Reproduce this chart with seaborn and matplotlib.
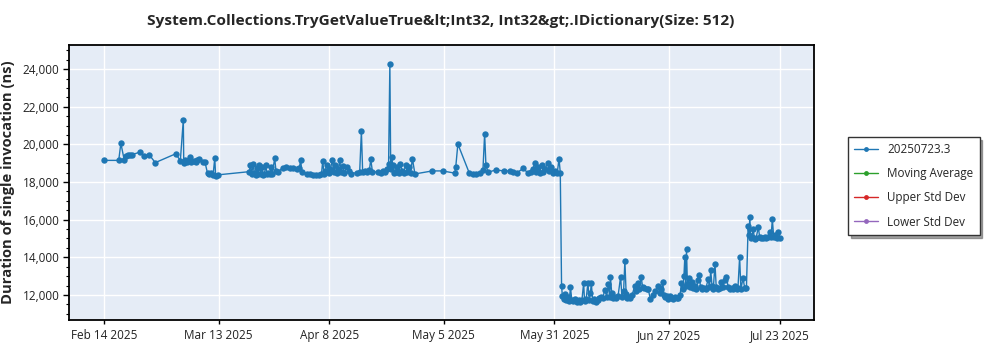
import matplotlib
matplotlib.use("Agg")
import matplotlib.pyplot as plt
from matplotlib.lines import Line2D
from matplotlib.ticker import FuncFormatter, MultipleLocator
import pandas as pd
import seaborn as sns

# ---------------- data ----------------
start_date = "2025-02-14"
day_offsets = [
    0.0, 3.5, 4.0, 4.8, 5.3, 5.6, 6.1, 6.6, 8.6, 9.4, 10.7, 12.1, 16.9, 18.0, 18.7, 18.8,
    19.1, 19.5, 20.0, 20.3, 20.6, 21.1, 21.6, 22.0, 22.5, 23.3, 23.8, 24.4, 24.8, 25.3,
    25.7, 26.1, 26.3, 26.8,
    34.2, 34.5, 34.8, 35.1, 35.4, 35.7, 36.0, 36.3, 36.6, 36.9, 37.2, 37.5, 37.8, 38.1,
    38.4, 38.7, 39.0, 39.3, 39.6, 40.2, 40.5, 40.9, 42.1, 42.9, 43.7, 44.5, 45.5, 46.0,
    46.3, 46.6, 47.8, 48.5, 49.2, 49.9, 50.6, 51.2, 51.5, 51.8,
    52.1, 52.5, 52.9, 53.3, 53.8, 54.1, 54.5, 54.9, 55.2, 55.5, 55.8, 56.2, 56.6, 57.2,
    57.6, 58.2, 59.5, 60.2, 60.6, 60.9, 61.5, 62.0, 62.5, 62.8, 63.2, 64.5, 65.2, 65.6,
    66.2, 66.6, 67.0, 67.3, 67.5, 67.7, 68.0, 68.3, 68.7, 69.0, 69.4, 69.8, 70.2, 70.6,
    71.0, 71.4, 71.8, 72.2, 72.6, 73.2, 77.3, 79.7, 82.6, 82.8, 83.3, 86.0, 86.8, 87.5,
    88.5, 89.2, 89.6, 89.9, 90.4, 92.2, 94.2, 95.5, 96.2, 97.1, 98.7, 99.8,
    100.5, 101.0, 101.4, 101.8, 102.2, 102.6, 103.0, 103.4, 103.8, 104.4, 104.8, 105.3,
    105.8, 106.2, 106.7, 107.1, 107.4,
    107.7, 107.9, 108.2, 108.5, 108.8, 109.2, 109.5, 109.8, 110.1, 110.5, 110.9, 111.3,
    111.7, 112.1, 112.5, 112.9, 113.1, 113.5, 113.9, 114.2, 114.5, 114.7, 115.0, 115.4,
    115.8, 116.2, 116.6, 117.0, 117.4, 117.9, 118.3, 118.7, 119.0, 119.2, 119.5, 119.8,
    120.2, 120.6, 121.0, 121.6, 121.9, 122.3, 122.6, 122.9, 123.1, 123.5, 123.9, 124.3,
    124.9, 125.3, 125.7, 126.0, 126.4, 126.8, 127.2, 127.7, 128.1, 128.6, 129.2, 129.8,
    130.4, 130.8, 131.2, 131.5, 131.8, 132.1, 132.4, 132.8, 133.2, 133.6, 134.0, 134.4,
    134.8, 135.2, 135.6, 135.9, 136.2, 136.5, 136.7, 136.9, 137.1, 137.3, 137.6, 137.9,
    138.3, 138.6, 139.0, 139.4, 139.8, 140.1, 140.4, 140.8, 141.2, 141.6, 142.2, 142.5,
    142.8, 143.1, 143.4, 143.8, 144.1, 144.5, 144.9, 145.3, 145.7, 146.1, 146.5, 146.9,
    147.3, 147.7, 148.1, 148.5, 148.9, 149.2, 149.6, 149.9, 150.4, 150.8, 151.2,
    151.6, 151.8, 152.0, 152.2, 152.5, 152.8, 153.1, 153.5, 154.0, 154.3, 154.7, 155.1,
    155.5, 155.9, 156.3, 156.7, 157.0, 157.3, 157.6, 157.9, 158.3, 158.7, 159.1,
]
durations_ns = [
    19150, 19150, 20060, 19170, 19400, 19440, 19450, 19450, 19600, 19400, 19440, 19030, 19500, 19140, 21310, 19000,
    19150, 19050, 19150, 19350, 19050, 19100, 19050, 19150, 19250, 19050, 19050, 18460, 18400, 18480,
    18350, 19280, 18320, 18380,
    18550, 18900, 18420, 18950, 18500, 18380, 18750, 18450, 18900, 18400, 18800, 18380, 18450, 18900,
    18400, 18500, 18420, 18800, 18400, 19260, 18600, 18550, 18750, 18780, 18760, 18720, 18700, 18750,
    19170, 18550, 18450, 18400, 18370, 18350, 18360, 18400, 19120, 18450,
    18600, 18900, 18500, 18700, 19170, 18550, 18900, 18500, 18700, 19170, 18550, 18850, 18500, 18820,
    18600, 18450, 18500, 18550, 20700, 18520, 18600, 18550, 18650, 19210, 18550, 18520, 18480, 18600,
    18550, 18700, 18950, 24270, 18700, 19350, 18900, 18500, 18550, 18800, 18500, 18950, 18600, 18500,
    18900, 18550, 18800, 18500, 19240, 18430, 18590, 18590, 18470, 18790, 20020, 18470, 18450, 18430,
    18470, 18640, 20570, 18910, 18520, 18640, 18590, 18590, 18530, 18470, 18730, 18470,
    18550, 18700, 19000, 18550, 18800, 18500, 18900, 18550, 18700, 19000, 18600, 18800,
    18500, 18600, 18500, 19240, 18500,
    12490, 11920, 11800, 12050, 11750, 11880, 11700, 12400, 11750, 11680, 11800, 11650,
    11720, 11630, 11750, 12630, 11700, 11800, 12650, 11750, 12100, 12660, 11700, 11800,
    11650, 11750, 11850, 11900, 11850, 12280, 11900, 12580, 11900, 12930, 12100, 11840,
    11900, 11850, 11950, 12980, 11900, 12200, 13810, 12050, 11840, 11900, 11850, 12000,
    12450, 12200, 12630, 12300, 12980, 12400, 12350, 12310, 12300, 11780, 12000, 12200,
    12450, 12100, 12300, 12710, 12000, 11900, 11920, 11800, 11950, 11850, 11800, 11900,
    11820, 11850, 12000, 12630, 12300, 13020, 14010, 12500, 14440, 12600, 12900, 12400,
    12700, 12350, 12500, 12300, 12800, 13070, 12400, 12300, 12350, 12300, 12840, 12400,
    13300, 12500, 12300, 13650, 12400, 12300, 12350, 12700, 12400, 12800, 12980, 12400,
    12300, 12350, 12300, 12500, 12300, 12350, 14010, 12300, 12900, 12350, 12370,
    15640, 15200, 16130, 15020, 15100, 15500, 14950, 15050, 15600, 15100, 15050, 15000,
    15100, 15050, 15100, 15320, 15100, 16030, 15100, 15200, 15050, 15340, 15020,
]
series_labels = ["20250723.3", "Moving Average", "Upper Std Dev", "Lower Std Dev"]
series_colors = ["#1f77b4", "#2ca02c", "#d62728", "#9467bd"]
x_tick_labels = ["Feb 14 2025", "Mar 13 2025", "Apr 8 2025", "May 5 2025",
                 "May 31 2025", "Jun 27 2025", "Jul 23 2025"]
y_ticks = [12000, 14000, 16000, 18000, 20000, 22000, 24000]
title_text = "System.Collections.TryGetValueTrue&lt;Int32, Int32&gt;.IDictionary(Size: 512)"
y_label = "Duration of single invocation (ns)"

# ---------------- build frame ----------------
df = pd.DataFrame({
    "date": pd.Timestamp(start_date) + pd.to_timedelta(day_offsets, unit="D"),
    "value": durations_ns,
})

sns.set_style("white")
plt.rcParams["font.family"] = ["Open Sans", "DejaVu Sans"]

fig = plt.figure(figsize=(10, 3.5), dpi=100)
ax = fig.add_axes([0.069, 0.086, 0.745, 0.785])
ax.set_facecolor("#e5ecf6")

sns.lineplot(data=df, x="date", y="value", ax=ax, estimator=None, sort=False,
             color=series_colors[0], linewidth=1.0, marker="o", markersize=4.6,
             markeredgewidth=0, legend=False)

ax.set_xlim(pd.Timestamp(start_date) - pd.Timedelta(days=8.2),
            pd.Timestamp(start_date) + pd.Timedelta(days=167.1))
ax.set_ylim(10674, 25273)

tick_dates = [pd.to_datetime(t, format="%b %d %Y") for t in x_tick_labels]
ax.set_xticks(tick_dates)
ax.set_xticklabels(x_tick_labels)
ax.set_yticks(y_ticks)
ax.yaxis.set_major_formatter(FuncFormatter(lambda v, p: f"{int(v):,}"))
ax.yaxis.set_minor_locator(MultipleLocator(500))

ax.grid(True, which="major", color="white", linewidth=1.0)
ax.set_axisbelow(True)
for s in ax.spines.values():
    s.set_color("black")
    s.set_linewidth(1.3)

ax.tick_params(axis="y", which="major", length=4, width=1, color="black",
               labelsize=8.5, labelcolor="#222222", left=True, pad=3)
ax.tick_params(axis="y", which="minor", length=2, width=0.8, color="black", left=True)
ax.tick_params(axis="x", which="major", length=3, width=1, color="black",
               labelsize=8.5, labelcolor="#222222", bottom=True)

ax.set_xlabel("")
ax.set_ylabel(y_label, fontsize=10.6, fontweight="bold", labelpad=5)
fig.text(0.441, 0.94, title_text, ha="center", va="center",
         fontsize=11.1, fontweight="bold")

handles = [Line2D([0], [0], color=c, marker="o", markersize=3.5, linewidth=1.0,
                  markeredgewidth=0) for c in series_colors]
leg = fig.legend(handles, series_labels, loc="upper left",
                 bbox_to_anchor=(0.848, 0.609), borderaxespad=0, frameon=True,
                 fancybox=False, shadow=True, fontsize=8.4, handlelength=2.0,
                 labelspacing=0.95, borderpad=0.55)
leg.get_frame().set_edgecolor("#333333")
leg.get_frame().set_linewidth(1.0)

fig.savefig("out.png", dpi=100)
